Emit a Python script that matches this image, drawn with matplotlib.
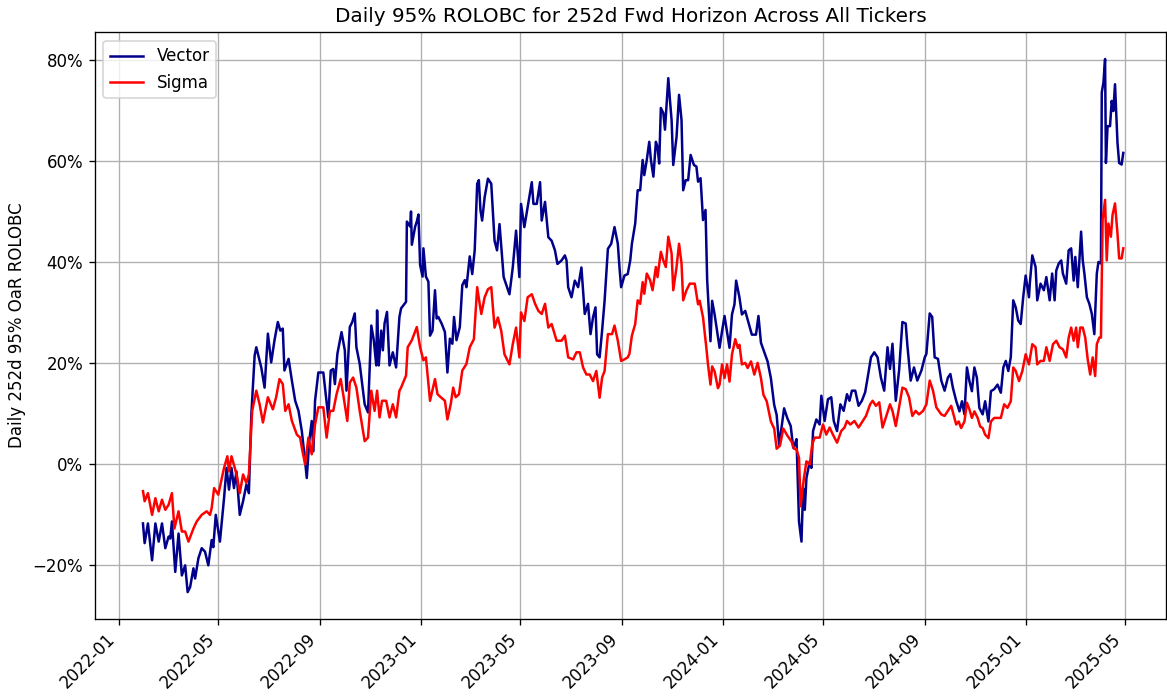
import pandas as pd
import matplotlib
matplotlib.use("Agg")
import matplotlib.pyplot as plt
import matplotlib.dates as mdates
from matplotlib.ticker import PercentFormatter

start = pd.Timestamp("2022-01-01")

# Vector: days since 2022-01-01, value in %
vec_days = [29, 31, 35, 40, 44, 48, 52, 56, 60, 62, 64, 68, 72, 76, 80, 83, 86, 90, 92, 96,
            100, 104, 108, 112, 114, 117, 122, 127, 130, 133, 136, 139, 142, 146, 150, 154, 157, 160, 164, 166,
            172, 176, 180, 184, 188, 192, 195, 198, 200, 205, 209, 213, 217, 221, 225, 227, 230, 233, 235, 237,
            241, 247, 249, 253, 256, 259, 261, 264, 269, 273, 275, 279, 282, 285, 287, 291, 297, 301, 305, 308,
            311, 312, 314, 317, 319, 321, 324, 327, 331, 335, 339, 341, 347, 348, 352, 353, 354, 358, 360, 362,
            364, 367, 368, 371, 374, 376, 379, 382, 384, 386, 390, 394, 397, 400, 403, 405, 408, 412, 415, 418,
            420, 424, 427, 430, 433, 435, 437, 439, 442, 446, 450, 454, 457, 460, 465, 472, 476, 480, 484, 486,
            490, 494, 499, 501, 505, 509, 511, 515, 519, 523, 527, 530, 535, 539, 541, 543, 547, 551, 555, 559,
            563, 567, 570, 573, 576, 578, 581, 584, 587, 591, 595, 599, 603, 605, 607, 611, 615, 618, 620, 624,
            627, 630, 633, 635, 638, 641, 643, 646, 649, 651, 653, 655, 658, 660, 664, 666, 668, 670, 674, 677,
            680, 682, 685, 688, 691, 695, 698, 700, 703, 706, 709, 711, 715, 717, 720, 726, 729, 732, 738, 741,
            744, 746, 750, 753, 757, 765, 770, 773, 776, 784, 788, 792, 795, 798, 804, 808, 812, 815, 817, 819,
            822, 825, 827, 829, 831, 835, 837, 839, 843, 847, 849, 853, 857, 861, 864, 868, 872, 876, 880, 883,
            886, 890, 894, 898, 902, 905, 909, 913, 917, 921, 925, 929, 932, 935, 939, 943, 947, 951, 953, 957,
            961, 965, 970, 974, 976, 980, 983, 986, 990, 994, 998, 1002, 1005, 1008, 1012, 1016, 1019, 1022, 1025, 1028,
            1031, 1034, 1037, 1040, 1044, 1047, 1051, 1054, 1058, 1062, 1066, 1069, 1072, 1075, 1078, 1081, 1084, 1087, 1090, 1093,
            1096, 1100, 1101, 1104, 1108, 1110, 1114, 1118, 1121, 1125, 1128, 1131, 1133, 1136, 1139, 1141, 1145, 1148, 1151, 1154,
            1156, 1159, 1163, 1165, 1167, 1170, 1173, 1176, 1179, 1182, 1184, 1187, 1188, 1190, 1192, 1193, 1195, 1198, 1200, 1202,
            1204, 1207, 1209, 1212, 1214]
vec_vals = [-11.8, -15.7, -11.8, -19.1, -11.8, -15.4, -11.8, -16.7, -14.4, -14.8, -11.4, -21.4, -13.8, -22.1, -20.1, -25.4, -24.4, -20.7, -22.7, -18.7,
            -16.7, -17.4, -20.1, -15.1, -16.5, -10.1, -15.4, -6.8, -0.8, -5.1, -0.8, -4.8, -1.5, -10.1, -7.4, -4.1, -5.8, 9.8, 21.5, 23.1,
            19.1, 15.1, 25.8, 20.1, 24.5, 28.1, 26.4, 26.8, 18.5, 20.8, 16.5, 12.5, 10.5, 6.5, 0.5, -2.8, 4.5, 8.5, 2.5, 12.5,
            18.1, 18.1, 15.1, 9.2, 18.5, 18.8, 15.8, 21.8, 26.1, 22.5, 14.5, 27.1, 28.1, 29.8, 23.1, 19.8, 11.8, 10.2, 27.4, 24.5,
            19.5, 30.4, 19.5, 26.4, 22.5, 27.8, 30.1, 19.5, 22.1, 19.1, 29.1, 30.8, 32.1, 48.0, 47.0, 50.0, 43.4, 47.0, 48.0, 49.4,
            39.4, 37.1, 42.7, 37.1, 36.1, 25.4, 26.4, 34.4, 28.8, 29.1, 27.8, 26.1, 18.1, 24.8, 23.8, 29.1, 24.5, 27.1, 35.4, 36.4,
            35.0, 41.1, 37.6, 42.3, 55.5, 56.2, 50.2, 48.2, 52.8, 56.5, 55.5, 44.2, 42.3, 47.5, 37.0, 33.6, 38.9, 46.2, 37.0, 51.5,
            46.9, 50.9, 55.8, 51.5, 51.5, 55.8, 48.2, 51.9, 44.9, 44.2, 42.3, 39.6, 40.3, 41.3, 40.3, 35.0, 33.0, 36.3, 35.0, 38.9,
            29.7, 31.7, 25.7, 29.0, 31.0, 21.7, 21.1, 26.4, 32.3, 42.6, 43.6, 46.9, 43.6, 38.9, 35.0, 37.3, 37.6, 40.3, 43.6, 47.6,
            54.2, 54.2, 60.2, 57.2, 60.2, 63.8, 60.2, 56.9, 63.8, 62.8, 59.5, 70.5, 69.5, 66.2, 76.4, 72.1, 68.1, 59.2, 64.8, 73.1,
            68.1, 54.2, 56.2, 56.2, 61.2, 59.2, 58.9, 55.9, 56.6, 48.3, 50.3, 36.4, 24.3, 32.3, 29.6, 23.0, 26.3, 29.3, 23.0, 29.6,
            31.6, 36.3, 33.0, 29.6, 30.3, 25.6, 25.6, 29.3, 24.0, 20.3, 17.0, 11.7, 9.7, 3.7, 11.0, 9.0, 7.5, 3.2, 3.9, 4.9,
            -11.4, -15.4, -4.8, -9.1, -2.8, 0.5, -0.8, 6.5, 8.8, 7.8, 13.5, 8.5, 12.8, 13.2, 8.5, 6.5, 11.8, 10.5, 13.8, 12.5,
            14.5, 14.5, 11.5, 12.5, 14.2, 17.1, 21.1, 22.1, 21.1, 17.1, 14.5, 23.1, 18.8, 23.8, 12.5, 18.5, 28.1, 27.8, 23.5, 16.5,
            19.1, 16.5, 18.5, 21.1, 21.8, 29.8, 29.1, 21.1, 20.8, 16.5, 14.5, 17.1, 17.8, 15.1, 12.5, 10.4, 12.4, 9.8, 19.1, 16.4,
            14.4, 19.1, 17.1, 11.1, 9.8, 12.4, 8.4, 14.4, 14.8, 15.7, 14.1, 19.1, 20.4, 18.4, 21.1, 32.4, 31.0, 28.4, 27.7, 33.0,
            37.3, 33.0, 35.7, 41.3, 39.0, 32.4, 35.7, 34.4, 37.0, 32.4, 37.7, 32.4, 38.3, 39.7, 40.3, 37.7, 35.7, 42.3, 42.7, 36.3,
            41.0, 35.0, 46.0, 40.3, 37.7, 33.0, 31.7, 29.7, 25.7, 37.7, 40.0, 39.7, 73.6, 75.5, 80.2, 59.6, 66.9, 66.9, 71.9, 69.9,
            75.2, 63.6, 59.6, 59.3, 61.6]

# Sigma: days since 2022-01-01, value in %
sig_days = [29, 31, 35, 40, 44, 48, 52, 56, 60, 64, 67, 72, 76, 80, 84, 90, 94, 100, 106, 110,
            112, 115, 120, 127, 131, 133, 136, 140, 143, 146, 150, 154, 157, 161, 166, 170, 174, 180, 186, 190,
            194, 198, 201, 205, 209, 215, 219, 221, 225, 229, 233, 237, 241, 247, 251, 255, 259, 263, 268, 271,
            276, 279, 283, 287, 291, 297, 301, 305, 309, 312, 315, 318, 323, 327, 331, 335, 339, 341, 347, 349,
            354, 360, 364, 368, 371, 376, 382, 385, 389, 394, 397, 401, 404, 407, 411, 415, 420, 424, 429, 433,
            436, 438, 442, 446, 450, 454, 458, 462, 466, 472, 476, 480, 484, 486, 490, 494, 499, 503, 507, 511,
            515, 519, 523, 529, 535, 539, 543, 549, 553, 557, 561, 565, 569, 573, 577, 581, 584, 587, 591, 596,
            599, 603, 607, 611, 615, 617, 620, 624, 627, 630, 633, 635, 638, 642, 645, 649, 651, 655, 658, 661,
            664, 668, 670, 674, 677, 680, 682, 686, 690, 696, 700, 702, 706, 710, 712, 715, 717, 720, 724, 726,
            729, 732, 735, 738, 741, 745, 748, 750, 753, 757, 760, 764, 768, 772, 776, 779, 783, 788, 792, 795,
            799, 803, 808, 813, 816, 819, 822, 824, 826, 828, 831, 835, 838, 841, 847, 851, 855, 859, 863, 868,
            873, 877, 880, 884, 889, 894, 899, 903, 908, 911, 915, 919, 923, 927, 932, 935, 939, 943, 947, 951,
            955, 959, 963, 967, 972, 976, 980, 984, 988, 994, 998, 1002, 1006, 1012, 1015, 1018, 1022, 1025, 1028, 1031,
            1034, 1038, 1041, 1044, 1047, 1051, 1054, 1058, 1062, 1066, 1070, 1074, 1078, 1081, 1084, 1088, 1092, 1096, 1100, 1104,
            1108, 1110, 1114, 1118, 1121, 1125, 1129, 1133, 1137, 1141, 1145, 1148, 1151, 1154, 1157, 1159, 1162, 1165, 1168, 1171,
            1174, 1177, 1180, 1182, 1185, 1187, 1189, 1192, 1194, 1196, 1199, 1201, 1204, 1207, 1209, 1212, 1214]
sig_vals = [-5.4, -7.4, -5.8, -10.1, -6.8, -9.4, -7.1, -9.1, -8.1, -5.8, -12.8, -9.4, -13.4, -13.4, -15.4, -12.8, -11.4, -10.1, -9.4, -10.1,
            -8.8, -4.8, -6.1, -0.8, 1.5, -1.5, 1.5, -0.8, -2.8, -5.8, -2.1, -3.8, -2.1, 10.5, 14.5, 11.8, 8.2, 13.2, 10.8, 13.2,
            16.8, 15.8, 10.5, 11.8, 8.5, 5.8, 5.2, 3.2, -0.1, 5.2, 1.9, 7.8, 11.2, 11.2, 5.2, 10.5, 10.5, 13.8, 16.8, 13.8,
            8.5, 16.1, 17.1, 15.1, 10.5, 4.5, 5.2, 14.5, 10.5, 14.5, 9.2, 12.5, 12.5, 9.2, 11.8, 9.2, 14.5, 15.1, 17.5, 23.1,
            24.5, 27.1, 23.1, 20.5, 21.1, 12.5, 16.8, 13.8, 13.2, 12.5, 8.8, 11.8, 15.1, 13.2, 13.8, 18.5, 19.8, 23.1, 24.7, 35.0,
            31.7, 29.7, 33.0, 34.6, 35.0, 27.0, 29.0, 26.4, 21.7, 19.7, 23.7, 27.0, 21.1, 30.0, 28.3, 33.0, 33.6, 31.7, 30.3, 29.7,
            31.7, 27.0, 27.7, 24.4, 24.4, 25.4, 21.1, 20.7, 22.1, 22.1, 19.1, 17.7, 17.7, 16.4, 18.4, 13.1, 17.1, 18.4, 25.7, 25.7,
            27.4, 24.4, 20.4, 20.7, 21.1, 21.8, 25.4, 27.7, 32.4, 31.7, 36.0, 33.7, 37.7, 36.4, 34.4, 39.0, 37.0, 42.0, 40.3, 39.0,
            45.0, 41.7, 34.4, 39.0, 43.6, 39.7, 32.4, 34.4, 35.7, 35.7, 31.6, 32.3, 29.0, 23.0, 19.7, 15.7, 19.3, 18.3, 15.0, 15.7,
            19.7, 17.0, 19.7, 16.3, 21.7, 24.7, 23.0, 23.6, 19.7, 20.0, 19.0, 20.3, 17.7, 20.0, 17.0, 13.7, 12.4, 8.4, 7.0, 3.0,
            3.6, 7.0, 5.6, 4.4, 3.0, 2.9, 1.2, -8.4, -5.4, -2.8, 0.5, -0.1, 3.9, 5.2, 5.2, 7.8, 5.8, 7.2, 5.8, 4.2,
            6.5, 7.2, 8.5, 7.8, 8.5, 7.2, 8.5, 9.5, 11.8, 12.5, 11.5, 12.2, 7.2, 9.2, 11.8, 10.5, 7.5, 11.2, 15.1, 14.8,
            13.2, 9.5, 10.5, 9.8, 10.5, 11.8, 16.5, 14.5, 11.2, 9.8, 9.5, 10.5, 11.5, 7.8, 8.4, 7.1, 8.4, 12.1, 10.8, 9.1,
            10.4, 9.1, 7.4, 7.1, 5.8, 5.1, 8.4, 9.1, 9.1, 9.1, 11.8, 11.1, 12.4, 19.1, 18.4, 16.4, 18.4, 21.7, 19.7, 23.7,
            23.1, 19.7, 20.4, 20.4, 23.1, 20.4, 23.7, 24.4, 23.1, 22.7, 21.1, 25.0, 27.0, 24.4, 27.0, 23.1, 27.0, 27.0, 25.0, 20.7,
            17.7, 21.1, 17.4, 23.7, 25.0, 25.0, 48.3, 52.3, 40.3, 47.6, 45.0, 49.3, 51.6, 45.6, 40.7, 40.7, 42.7]

vec_dates = start + pd.to_timedelta(vec_days, unit="D")
sig_dates = start + pd.to_timedelta(sig_days, unit="D")

fig = plt.figure(figsize=(1167 / 120, 696 / 120), dpi=120)
ax = fig.add_axes([0.0814, 0.111, 0.918, 0.8425])

ax.plot(vec_dates, vec_vals, color="darkblue", linewidth=1.5, label="Vector")
ax.plot(sig_dates, sig_vals, color="red", linewidth=1.5, label="Sigma")

ax.set_title("Daily 95% ROLOBC for 252d Fwd Horizon Across All Tickers")
ax.set_ylabel("Daily 252d 95% OaR ROLOBC")
ax.yaxis.set_major_formatter(PercentFormatter(100, decimals=0))
ax.xaxis.set_major_locator(mdates.MonthLocator(bymonth=[1, 5, 9]))
ax.xaxis.set_major_formatter(mdates.DateFormatter("%Y-%m"))
ax.set_xlim(start - pd.Timedelta(days=29), start + pd.Timedelta(days=1266))
plt.setp(ax.get_xticklabels(), rotation=45, ha="right")
ax.grid(True)
ax.legend(loc="upper left")

fig.savefig("out.png", dpi=120)
